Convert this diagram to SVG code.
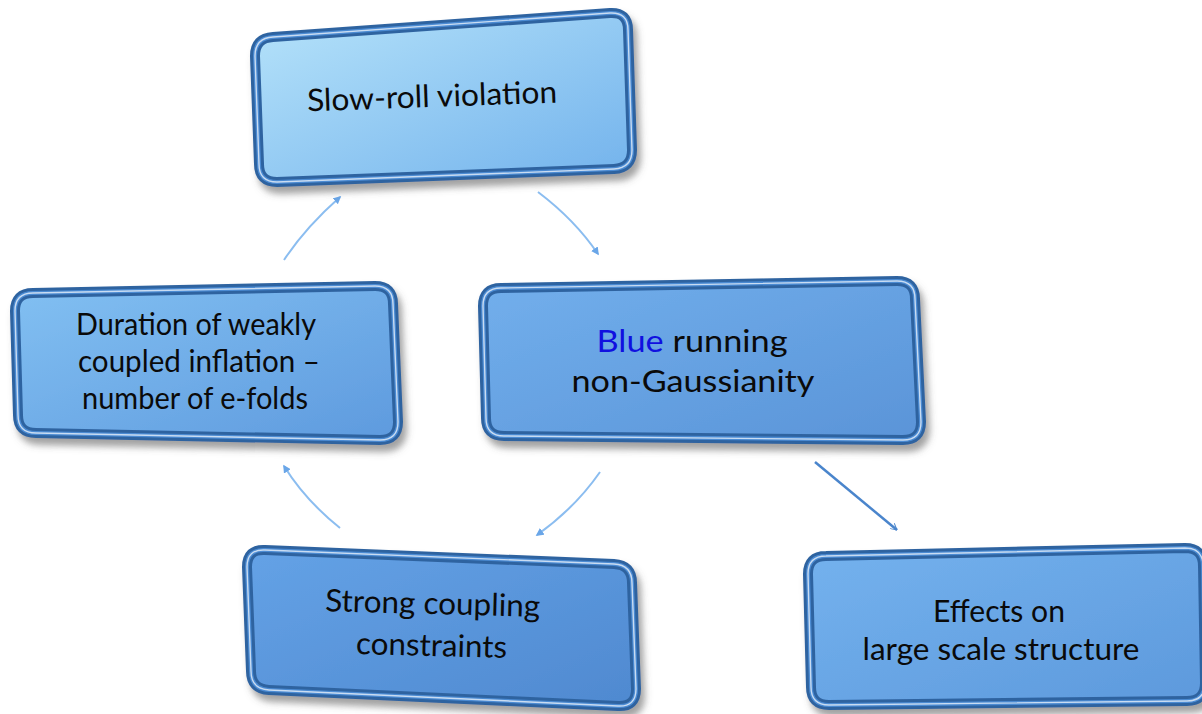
<svg xmlns="http://www.w3.org/2000/svg" width="1202" height="714" viewBox="0 0 1202 714">
<style>
.lbl{font-family:Lato,"Open Sans","Liberation Sans",sans-serif;font-size:31px;fill:#0a0a0a;text-anchor:middle}
.b0{stroke:#2f63a0;stroke-width:10;stroke-linejoin:round}
.b1{fill:none;stroke:#4b8bd3;stroke-width:4;stroke-linejoin:round}
.b2{fill:none;stroke:#ffffff;stroke-opacity:0.7;stroke-width:1.4;stroke-linejoin:round}
.thin{fill:none;stroke:#8bbdf0;stroke-width:2;marker-end:url(#ah)}
.thick{fill:none;stroke:#4a85cc;stroke-width:2.5;marker-end:url(#av)}
</style>
<defs>
<filter id="sh" x="-10%" y="-10%" width="125%" height="135%">
<feDropShadow dx="4" dy="7" stdDeviation="3.5" flood-color="#555" flood-opacity="0.55"/>
</filter>
<linearGradient id="g1" x1="0" y1="0" x2="1" y2="1">
<stop offset="0" stop-color="#b6e3fa"/><stop offset="1" stop-color="#72b2ec"/>
</linearGradient>
<linearGradient id="g2" x1="0" y1="0" x2="1" y2="1">
<stop offset="0" stop-color="#82c0f2"/><stop offset="1" stop-color="#5e9ade"/>
</linearGradient>
<linearGradient id="g3" x1="0" y1="0" x2="1" y2="1">
<stop offset="0" stop-color="#72afec"/><stop offset="1" stop-color="#5a94d8"/>
</linearGradient>
<linearGradient id="g4" x1="0" y1="0" x2="1" y2="1">
<stop offset="0" stop-color="#64a2e6"/><stop offset="1" stop-color="#4f89d0"/>
</linearGradient>
<linearGradient id="g5" x1="0" y1="0" x2="1" y2="1">
<stop offset="0" stop-color="#74b2ee"/><stop offset="1" stop-color="#5d99dc"/>
</linearGradient>
<marker id="ah" viewBox="0 0 10 10" refX="8" refY="5" markerWidth="4" markerHeight="4" orient="auto">
<path d="M0,0 L10,5 L0,10 Z" fill="#6aa6e8"/>
</marker>
<marker id="av" viewBox="0 0 12 12" refX="11" refY="6" markerWidth="7" markerHeight="7" orient="auto" markerUnits="userSpaceOnUse">
<path d="M0,0 L11,6 L0,12" fill="none" stroke="#4a85cc" stroke-width="1.6"/>
</marker>
</defs>
<rect width="1202" height="714" fill="#ffffff"/>

<g id="connectors">
<path class="thin" d="M284,260 Q305,228 340,197"/>
<path class="thin" d="M538,192 Q575,220 598,254"/>
<path class="thin" d="M340,528 Q305,500 284,466"/>
<path class="thin" d="M600,472 Q575,508 537,535"/>
<path class="thick" d="M815,462 L897,530"/>
</g>

<g id="node-slowroll">
<path class="b0" filter="url(#sh)" fill="url(#g1)" d="M273,37 L610,13 Q628,12 628,30 L632,150 Q632,168 614,169 L277,182 Q259,182 259,164 L255,56 Q255,38 273,37 Z"/>
<path class="b1" d="M273,37 L610,13 Q628,12 628,30 L632,150 Q632,168 614,169 L277,182 Q259,182 259,164 L255,56 Q255,38 273,37 Z"/>
<path class="b2" d="M273,37 L610,13 Q628,12 628,30 L632,150 Q632,168 614,169 L277,182 Q259,182 259,164 L255,56 Q255,38 273,37 Z"/>
<text class="lbl" x="432" y="107" font-size="34" textLength="250" lengthAdjust="spacingAndGlyphs" transform="rotate(-2 432 96)">Slow-roll violation</text>
</g>

<g id="node-duration">
<path class="b0" filter="url(#sh)" fill="url(#g2)" d="M33,293 L375,286 Q393,286 393,304 L398,422 Q398,440 380,440 L36,433 Q18,433 18,415 L15,311 Q15,293 33,293 Z"/>
<path class="b1" d="M33,293 L375,286 Q393,286 393,304 L398,422 Q398,440 380,440 L36,433 Q18,433 18,415 L15,311 Q15,293 33,293 Z"/>
<path class="b2" d="M33,293 L375,286 Q393,286 393,304 L398,422 Q398,440 380,440 L36,433 Q18,433 18,415 L15,311 Q15,293 33,293 Z"/>
<text class="lbl" x="196" y="335" textLength="240" lengthAdjust="spacingAndGlyphs">Duration of weakly</text>
<text class="lbl" x="199" y="372" textLength="242" lengthAdjust="spacingAndGlyphs">coupled inflation –</text>
<text class="lbl" x="195" y="409" textLength="226" lengthAdjust="spacingAndGlyphs">number of e-folds</text>
</g>

<g id="node-blue">
<path class="b0" filter="url(#sh)" fill="url(#g3)" d="M501,288 L897,281 Q915,281 915,299 L921,422 Q921,440 903,440 L504,436 Q486,436 486,418 L483,306 Q483,288 501,288 Z"/>
<path class="b1" d="M501,288 L897,281 Q915,281 915,299 L921,422 Q921,440 903,440 L504,436 Q486,436 486,418 L483,306 Q483,288 501,288 Z"/>
<path class="b2" d="M501,288 L897,281 Q915,281 915,299 L921,422 Q921,440 903,440 L504,436 Q486,436 486,418 L483,306 Q483,288 501,288 Z"/>
<text class="lbl" x="692" y="352" textLength="191" lengthAdjust="spacingAndGlyphs"><tspan fill="#1010e0">Blue</tspan> running</text>
<text class="lbl" x="693" y="392" textLength="243" lengthAdjust="spacingAndGlyphs">non-Gaussianity</text>
</g>

<g id="node-strong">
<path class="b0" filter="url(#sh)" fill="url(#g4)" d="M265,550 L614,564 Q632,565 632,583 L636,689 Q636,707 618,706 L269,690 Q251,689 251,671 L247,567 Q247,549 265,550 Z"/>
<path class="b1" d="M265,550 L614,564 Q632,565 632,583 L636,689 Q636,707 618,706 L269,690 Q251,689 251,671 L247,567 Q247,549 265,550 Z"/>
<path class="b2" d="M265,550 L614,564 Q632,565 632,583 L636,689 Q636,707 618,706 L269,690 Q251,689 251,671 L247,567 Q247,549 265,550 Z"/>
<g transform="rotate(1.5 432 630)">
<text class="lbl" x="432" y="614" textLength="215" lengthAdjust="spacingAndGlyphs">Strong coupling</text>
<text class="lbl" x="432" y="656" textLength="151" lengthAdjust="spacingAndGlyphs">constraints</text>
</g>
</g>

<g id="node-effects">
<path class="b0" filter="url(#sh)" fill="url(#g5)" d="M826,556 L1185,548 Q1203,548 1203,566 L1205,683 Q1205,701 1187,701 L829,705 Q811,705 811,687 L808,574 Q808,556 826,556 Z"/>
<path class="b1" d="M826,556 L1185,548 Q1203,548 1203,566 L1205,683 Q1205,701 1187,701 L829,705 Q811,705 811,687 L808,574 Q808,556 826,556 Z"/>
<path class="b2" d="M826,556 L1185,548 Q1203,548 1203,566 L1205,683 Q1205,701 1187,701 L829,705 Q811,705 811,687 L808,574 Q808,556 826,556 Z"/>
<text class="lbl" x="999" y="622" textLength="132" lengthAdjust="spacingAndGlyphs">Effects on</text>
<text class="lbl" x="1001" y="660" textLength="277" lengthAdjust="spacingAndGlyphs">large scale structure</text>
</g>
</svg>
